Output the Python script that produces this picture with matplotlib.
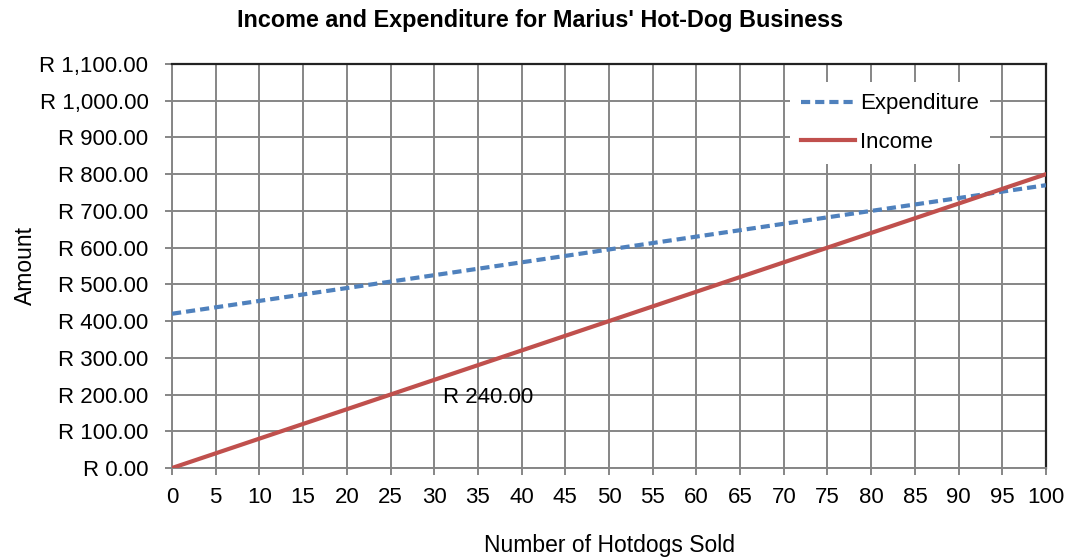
import matplotlib.pyplot as plt
from matplotlib.ticker import FuncFormatter

plt.rcParams['font.family'] = ['Liberation Sans', 'DejaVu Sans']

# hotdogs sold
hotdogs = [0, 5, 10, 15, 20, 25, 30, 35, 40, 45, 50,
           55, 60, 65, 70, 75, 80, 85, 90, 95, 100]
expenditure = [420, 437.5, 455, 472.5, 490, 507.5, 525, 542.5, 560, 577.5, 595,
               612.5, 630, 647.5, 665, 682.5, 700, 717.5, 735, 752.5, 770]
income = [0, 40, 80, 120, 160, 200, 240, 280, 320, 360, 400,
          440, 480, 520, 560, 600, 640, 680, 720, 760, 800]

note_text = "R 240.00"
note_pos = (36.2, 191)

grid_col = '#868686'

fig = plt.figure(figsize=(10.76, 5.58), dpi=100)
ax = fig.add_axes([0.1599, 0.1613, 0.8122, 0.724])

ax.plot(hotdogs, expenditure, color='#4F81BD', lw=3, ls=(0, (2.2, 1.2)),
        label='Expenditure', zorder=3)
ax.plot(hotdogs, income, color='#C0504D', lw=3, label='Income', zorder=3)

ax.set_xlim(0, 100)
ax.set_ylim(0, 1100)
ax.set_xticks(range(0, 101, 5))
ax.set_yticks(range(0, 1101, 100))
ax.yaxis.set_major_formatter(FuncFormatter(lambda v, p: f"R {v:,.2f}"))
ax.grid(True, color=grid_col, lw=1.4)
ax.set_axisbelow(True)

ax.tick_params(axis='both', labelsize=16, length=5, width=1.4,
               direction='out', color=grid_col, labelcolor='black')
ax.tick_params(axis='x', pad=9)
ax.tick_params(axis='y', pad=12)

for s in ['left', 'bottom']:
    ax.spines[s].set_color(grid_col)
    ax.spines[s].set_linewidth(1.4)
for s in ['top', 'right']:
    ax.spines[s].set_color('#222222')
    ax.spines[s].set_linewidth(1.6)

ax.text(note_pos[0], note_pos[1], note_text, fontsize=16, ha='center', va='center')

fig.text(0.502, 1 - 21 / 558, "Income and Expenditure for Marius' Hot-Dog Business",
         fontsize=16.8, fontweight='bold', ha='center', va='center')
ax.set_xlabel("Number of Hotdogs Sold", fontsize=16.5, labelpad=18.5)
ax.set_ylabel("Amount", fontsize=16.5, labelpad=2)

leg = ax.legend(loc='upper right', bbox_to_anchor=(0.936, 0.955), fontsize=16,
                frameon=True, fancybox=False, handlelength=2.4,
                handletextpad=0.25, labelspacing=0.8, borderpad=0.5,
                borderaxespad=0)
leg.get_frame().set_edgecolor('none')
leg.get_frame().set_facecolor('white')
leg.get_frame().set_alpha(1)

fig.savefig('out.png', dpi=100)
